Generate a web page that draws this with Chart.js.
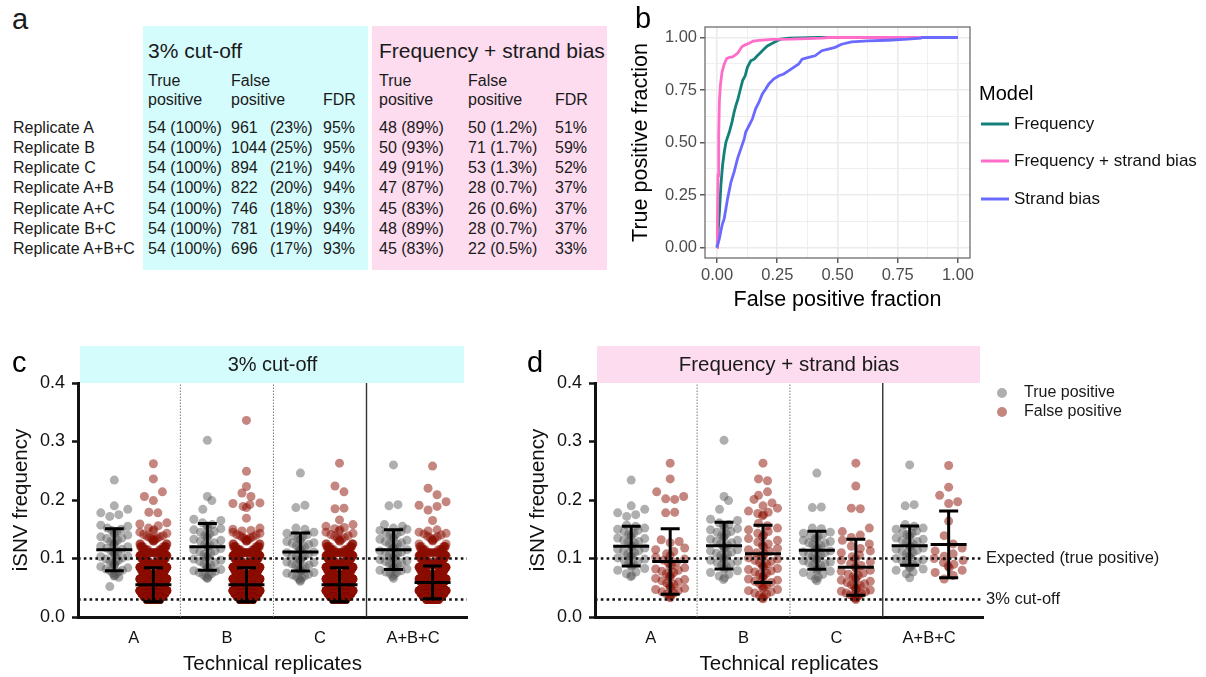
<!DOCTYPE html>
<html>
<head>
<meta charset="utf-8">
<script src="https://cdn.jsdelivr.net/npm/chart.js@4.4.1/dist/chart.umd.min.js"></script>
<style>
  body { margin: 0; background: #fff; }
  #fig { position: relative; width: 1206px; height: 677px; overflow: hidden;
         font-family: 'Liberation Sans', Arial, sans-serif; color: #1a1a1a; }
  .t { position: absolute; white-space: nowrap; line-height: 1; }
  .box { position: absolute; }
  canvas { position: absolute; }
</style>
</head>
<body>
<div id="fig">
  <canvas id="roc" width="586" height="320" style="left:620px;top:0px"></canvas>
  <canvas id="cut" width="480" height="347" style="left:0px;top:330px"></canvas>
  <canvas id="sb" width="686" height="347" style="left:520px;top:330px"></canvas>
</div>
<script>
// ---- panel a: detection table ----
const replicates = ['Replicate A', 'Replicate B', 'Replicate C', 'Replicate A+B', 'Replicate A+C', 'Replicate B+C', 'Replicate A+B+C'];
const cutTpN = [54, 54, 54, 54, 54, 54, 54];
const cutTpPct = [100, 100, 100, 100, 100, 100, 100];
const cutFpN = [961, 1044, 894, 822, 746, 781, 696];
const cutFpPct = [23, 25, 21, 20, 18, 19, 17];
const cutFdr = [95, 95, 94, 94, 93, 94, 93];
const sbTpN = [48, 50, 49, 47, 45, 48, 45];
const sbTpPct = [89, 93, 91, 87, 83, 89, 83];
const sbFpN = [50, 71, 53, 28, 26, 28, 22];
const sbFpPct = ['1.2', '1.7', '1.3', '0.7', '0.6', '0.7', '0.5'];
const sbFdr = [51, 59, 52, 37, 37, 37, 33];

// ---- panel b: ROC curves ----
const rocFreqX = [0, 0.010, 0.016, 0.023, 0.030, 0.037, 0.051, 0.062, 0.071, 0.078, 0.085, 0.092, 0.099, 0.106, 0.117, 0.126, 0.140, 0.154, 0.167, 0.181, 0.195, 0.209, 0.222, 0.236, 0.250, 0.263, 0.300, 0.420, 1.0];
const rocFreqY = [0, 0.171, 0.297, 0.392, 0.455, 0.502, 0.550, 0.597, 0.645, 0.676, 0.700, 0.731, 0.763, 0.795, 0.818, 0.858, 0.889, 0.897, 0.913, 0.929, 0.945, 0.960, 0.968, 0.976, 0.984, 0.992, 0.997, 1.0, 1.0];
const rocBothX = [0, 0.0014, 0.0041, 0.0069, 0.0096, 0.0137, 0.0206, 0.030, 0.040, 0.051, 0.064, 0.075, 0.086, 0.095, 0.103, 0.117, 0.133, 0.150, 0.174, 0.229, 0.311, 0.435, 0.462, 1.0];
const rocBothY = [0, 0.107, 0.344, 0.534, 0.692, 0.771, 0.834, 0.874, 0.900, 0.905, 0.908, 0.916, 0.926, 0.942, 0.956, 0.965, 0.973, 0.983, 0.986, 0.991, 0.992, 0.997, 1.0, 1.0];
const rocStrandX = [0, 0.010, 0.021, 0.030, 0.044, 0.058, 0.071, 0.085, 0.099, 0.113, 0.119, 0.133, 0.147, 0.160, 0.174, 0.188, 0.202, 0.215, 0.236, 0.257, 0.277, 0.298, 0.318, 0.339, 0.353, 0.380, 0.407, 0.435, 0.462, 0.490, 0.517, 0.558, 0.627, 0.709, 0.791, 0.846, 0.850, 1.0];
const rocStrandY = [0, 0.044, 0.107, 0.139, 0.234, 0.313, 0.360, 0.423, 0.471, 0.518, 0.550, 0.581, 0.613, 0.660, 0.692, 0.731, 0.755, 0.779, 0.803, 0.818, 0.826, 0.842, 0.858, 0.874, 0.897, 0.905, 0.913, 0.937, 0.945, 0.953, 0.968, 0.979, 0.984, 0.987, 0.992, 0.997, 1.0, 1.0];
const rocTicks = [0, 0.125, 0.25, 0.375, 0.5, 0.625, 0.75, 0.875, 1];
const modelNames = ['Frequency', 'Frequency + strand bias', 'Strand bias'];

// ---- panels c/d: iSNV frequencies per technical replicate ----
const categories = ['A', 'B', 'C', 'A+B+C'];
const freqTicks = [0, 0.1, 0.2, 0.3, 0.4];

// true positives, 3% cut-off
const tpCutA = [0.234, 0.190, 0.184, 0.178, 0.175, 0.172, 0.157, 0.155, 0.152, 0.150, 0.148, 0.146, 0.143, 0.142, 0.140, 0.137, 0.135, 0.134, 0.131, 0.129, 0.128, 0.126, 0.124, 0.121, 0.120, 0.118, 0.116, 0.113, 0.112, 0.110, 0.108, 0.106, 0.104, 0.103, 0.101, 0.099, 0.097, 0.095, 0.094, 0.092, 0.090, 0.088, 0.086, 0.084, 0.082, 0.080, 0.079, 0.077, 0.075, 0.073, 0.071, 0.070, 0.068, 0.052];
const tpCutB = [0.302, 0.206, 0.199, 0.184, 0.167, 0.165, 0.161, 0.158, 0.156, 0.153, 0.151, 0.149, 0.146, 0.145, 0.142, 0.140, 0.138, 0.136, 0.133, 0.131, 0.130, 0.127, 0.125, 0.123, 0.121, 0.119, 0.117, 0.115, 0.113, 0.111, 0.109, 0.107, 0.105, 0.103, 0.101, 0.099, 0.097, 0.095, 0.093, 0.091, 0.089, 0.087, 0.085, 0.083, 0.081, 0.079, 0.078, 0.076, 0.074, 0.072, 0.071, 0.069, 0.067, 0.066];
const tpCutC = [0.246, 0.191, 0.187, 0.152, 0.150, 0.145, 0.143, 0.141, 0.139, 0.137, 0.135, 0.133, 0.131, 0.129, 0.127, 0.126, 0.124, 0.122, 0.120, 0.118, 0.117, 0.115, 0.113, 0.111, 0.110, 0.108, 0.106, 0.104, 0.103, 0.101, 0.099, 0.098, 0.096, 0.094, 0.093, 0.091, 0.089, 0.088, 0.086, 0.084, 0.083, 0.081, 0.079, 0.078, 0.076, 0.075, 0.073, 0.072, 0.070, 0.069, 0.067, 0.065, 0.063, 0.061];
const tpCutABC = [0.260, 0.192, 0.190, 0.158, 0.155, 0.152, 0.150, 0.148, 0.146, 0.144, 0.142, 0.140, 0.138, 0.136, 0.134, 0.133, 0.131, 0.129, 0.127, 0.125, 0.124, 0.122, 0.120, 0.118, 0.117, 0.115, 0.113, 0.111, 0.110, 0.108, 0.106, 0.105, 0.103, 0.101, 0.100, 0.098, 0.096, 0.095, 0.093, 0.091, 0.090, 0.088, 0.087, 0.085, 0.083, 0.082, 0.080, 0.079, 0.077, 0.076, 0.074, 0.072, 0.069, 0.066];

// false positives, 3% cut-off: dense part as a frequency table, sparse upper tail as single calls
const freqBins = [0.030, 0.035, 0.040, 0.045, 0.050, 0.055, 0.060, 0.065, 0.070, 0.075, 0.080, 0.085, 0.090, 0.095, 0.100, 0.105, 0.110, 0.115, 0.120, 0.125, 0.130];
const fpCutCountsA = [100, 96, 90, 84, 76, 68, 61, 55, 49, 43, 38, 33, 29, 25, 22, 19, 17, 14, 10, 4, 2];
const fpCutCountsB = [110, 104, 98, 91, 83, 75, 67, 60, 53, 47, 41, 36, 31, 27, 23, 21, 18, 15, 11, 4, 2];
const fpCutCountsC = [94, 89, 84, 78, 71, 64, 57, 51, 45, 40, 35, 31, 27, 23, 20, 18, 16, 13, 9, 5, 2];
const fpCutCountsABC = [62, 63, 60, 57, 54, 50, 46, 42, 38, 34, 31, 27, 24, 21, 18, 16, 13, 10, 7, 2, 1];
const fpCutTailA = [0.262, 0.236, 0.214, 0.206, 0.199, 0.179, 0.178, 0.161, 0.159, 0.156, 0.152, 0.149, 0.147, 0.145, 0.143, 0.141, 0.139, 0.138, 0.137, 0.136, 0.135, 0.134, 0.133, 0.132, 0.131];
const fpCutTailB = [0.336, 0.249, 0.223, 0.212, 0.206, 0.195, 0.194, 0.192, 0.189, 0.187, 0.169, 0.152, 0.150, 0.148, 0.147, 0.145, 0.143, 0.141, 0.140, 0.139, 0.137, 0.136, 0.135, 0.134, 0.133, 0.132, 0.131];
const fpCutTailC = [0.263, 0.224, 0.214, 0.186, 0.185, 0.166, 0.158, 0.155, 0.153, 0.151, 0.149, 0.147, 0.145, 0.143, 0.141, 0.139, 0.138, 0.136, 0.135, 0.133, 0.132];
const fpCutTailABC = [0.258, 0.220, 0.209, 0.197, 0.191, 0.189, 0.183, 0.165, 0.149, 0.147, 0.145, 0.143, 0.142, 0.140, 0.138, 0.137, 0.135, 0.134, 0.132, 0.131];

// true positives, frequency + strand bias model
const tpSbA = [0.234, 0.190, 0.184, 0.178, 0.175, 0.172, 0.157, 0.155, 0.152, 0.150, 0.148, 0.146, 0.143, 0.142, 0.140, 0.137, 0.135, 0.134, 0.131, 0.129, 0.128, 0.126, 0.124, 0.121, 0.120, 0.118, 0.116, 0.113, 0.112, 0.110, 0.108, 0.106, 0.104, 0.103, 0.101, 0.099, 0.097, 0.095, 0.092, 0.090, 0.088, 0.086, 0.083, 0.080, 0.077, 0.074, 0.071, 0.069];
const tpSbB = [0.302, 0.206, 0.199, 0.184, 0.167, 0.165, 0.161, 0.158, 0.156, 0.153, 0.151, 0.149, 0.146, 0.145, 0.142, 0.140, 0.138, 0.136, 0.133, 0.131, 0.130, 0.127, 0.125, 0.123, 0.121, 0.119, 0.117, 0.115, 0.113, 0.111, 0.109, 0.107, 0.105, 0.103, 0.101, 0.099, 0.097, 0.095, 0.093, 0.091, 0.089, 0.087, 0.085, 0.082, 0.079, 0.076, 0.073, 0.070, 0.067, 0.064];
const tpSbC = [0.246, 0.188, 0.187, 0.152, 0.151, 0.145, 0.143, 0.141, 0.139, 0.137, 0.135, 0.133, 0.131, 0.129, 0.127, 0.126, 0.124, 0.122, 0.120, 0.118, 0.117, 0.115, 0.113, 0.111, 0.110, 0.108, 0.106, 0.104, 0.103, 0.101, 0.099, 0.098, 0.096, 0.094, 0.093, 0.091, 0.089, 0.088, 0.086, 0.084, 0.082, 0.080, 0.078, 0.076, 0.073, 0.071, 0.068, 0.065, 0.062];
const tpSbABC = [0.260, 0.192, 0.190, 0.158, 0.155, 0.152, 0.150, 0.147, 0.145, 0.143, 0.141, 0.139, 0.137, 0.135, 0.133, 0.131, 0.129, 0.127, 0.125, 0.123, 0.121, 0.120, 0.118, 0.116, 0.114, 0.112, 0.110, 0.108, 0.106, 0.104, 0.102, 0.100, 0.098, 0.096, 0.094, 0.092, 0.090, 0.088, 0.086, 0.084, 0.082, 0.080, 0.077, 0.074, 0.067];

// false positives, frequency + strand bias model
const fpSbA = [0.263, 0.236, 0.214, 0.206, 0.202, 0.201, 0.179, 0.178, 0.132, 0.129, 0.127, 0.118, 0.115, 0.112, 0.108, 0.105, 0.102, 0.099, 0.097, 0.094, 0.092, 0.089, 0.086, 0.084, 0.082, 0.080, 0.078, 0.076, 0.074, 0.072, 0.070, 0.068, 0.066, 0.064, 0.062, 0.060, 0.058, 0.056, 0.054, 0.052, 0.050, 0.049, 0.047, 0.045, 0.043, 0.041, 0.039, 0.037, 0.035, 0.033];
const fpSbB = [0.263, 0.236, 0.233, 0.214, 0.208, 0.201, 0.195, 0.190, 0.186, 0.181, 0.179, 0.177, 0.175, 0.173, 0.160, 0.156, 0.152, 0.149, 0.146, 0.143, 0.140, 0.137, 0.134, 0.131, 0.128, 0.125, 0.122, 0.120, 0.117, 0.115, 0.112, 0.110, 0.108, 0.105, 0.103, 0.101, 0.099, 0.097, 0.095, 0.093, 0.091, 0.089, 0.087, 0.085, 0.083, 0.081, 0.079, 0.077, 0.075, 0.073, 0.071, 0.069, 0.067, 0.065, 0.063, 0.061, 0.059, 0.057, 0.055, 0.053, 0.051, 0.049, 0.047, 0.045, 0.043, 0.041, 0.039, 0.037, 0.035, 0.033, 0.031];
const fpSbC = [0.263, 0.224, 0.186, 0.185, 0.152, 0.146, 0.140, 0.136, 0.131, 0.125, 0.121, 0.117, 0.113, 0.110, 0.106, 0.103, 0.100, 0.097, 0.094, 0.091, 0.088, 0.085, 0.083, 0.080, 0.078, 0.075, 0.073, 0.071, 0.069, 0.067, 0.065, 0.063, 0.061, 0.059, 0.057, 0.055, 0.054, 0.052, 0.050, 0.049, 0.047, 0.046, 0.044, 0.043, 0.041, 0.040, 0.038, 0.037, 0.036, 0.034, 0.033, 0.032, 0.030];
const fpSbABC = [0.259, 0.222, 0.208, 0.197, 0.194, 0.164, 0.139, 0.125, 0.118, 0.113, 0.108, 0.104, 0.100, 0.097, 0.093, 0.090, 0.087, 0.084, 0.080, 0.076, 0.071, 0.065];

// mean and SD bars
const tpMeanCut = [0.115, 0.120, 0.111, 0.115];
const tpSdCut = [0.036, 0.040, 0.0325, 0.034];
const fpMeanCut = [0.055, 0.055, 0.055, 0.059];
const fpSdCut = [0.029, 0.029, 0.029, 0.028];
const tpMeanSb = [0.121, 0.122, 0.114, 0.122];
const tpSdSb = [0.034, 0.040, 0.0325, 0.0335];
const fpMeanSb = [0.095, 0.108, 0.085, 0.124];
const fpSdSb = [0.056, 0.049, 0.048, 0.057];

const expectedFreq = 0.1;
const cutoffFreq = 0.03;

// ---- styling ----
const FONT = "'Liberation Sans', Arial, sans-serif";
const TEAL = '#13807a', PINK = '#ff6cc9', BLUE = '#6a6aff';
const TP_COLOR = 'rgba(88,88,88,0.48)', FP_COLOR = 'rgba(140,14,0,0.5)';
const CYAN_BG = '#d5fcfd', PINK_BG = '#fddcf0';
const POINT_R = 4.5;
const X_MIN = -0.6, X_MAX = 3.58, SHIFT = 0.21;

Chart.defaults.font.family = FONT;
Chart.defaults.color = '#111';

const fig = document.getElementById('fig');

function put(text, x, base, size) {
  const el = document.createElement('div');
  el.className = 't';
  el.textContent = text;
  el.style.left = x + 'px';
  el.style.top = (base - 0.8465 * size) + 'px';
  el.style.fontSize = size + 'px';
  fig.appendChild(el);
}
function box(x, y, w, h, color) {
  const el = document.createElement('div');
  el.className = 'box';
  Object.assign(el.style, { left: x + 'px', top: y + 'px', width: w + 'px', height: h + 'px', background: color });
  fig.insertBefore(el, fig.firstChild);
}

// table
box(143, 26, 225, 244, CYAN_BG);
box(372, 26, 235, 244, PINK_BG);
put('a', 12, 30, 29);
put('3% cut-off', 148, 58, 21);
put('Frequency + strand bias', 379, 58, 21);
[[148, 'True'], [231, 'False'], [379, 'True'], [468, 'False']].forEach(([x, s]) => {
  put(s, x, 87, 16);
  put('positive', x, 106, 16);
});
put('FDR', 323, 106, 16);
put('FDR', 555, 106, 16);
replicates.forEach((r, i) => {
  const b = 133.5 + i * 20.15;
  put(r, 13, b, 16);
  put(cutTpN[i] + ' (' + cutTpPct[i] + '%)', 148, b, 16);
  put(String(cutFpN[i]), 231, b, 16);
  put('(' + cutFpPct[i] + '%)', 270, b, 16);
  put(cutFdr[i] + '%', 323, b, 16);
  put(sbTpN[i] + ' (' + sbTpPct[i] + '%)', 379, b, 16);
  put(sbFpN[i] + ' (' + sbFpPct[i] + '%)', 468, b, 16);
  put(sbFdr[i] + '%', 555, b, 16);
});

// ---- ROC chart ----
const toPts = (xs, ys) => xs.map((x, i) => ({ x, y: ys[i] }));
const isMajor = v => Math.abs(v * 4 - Math.round(v * 4)) < 1e-6;

function rocAxis(title, titlePad, size) {
  return {
    type: 'linear', min: -0.05, max: 1.05,
    afterBuildTicks: s => { s.ticks = rocTicks.map(v => ({ value: v })); },
    afterFit: size,
    ticks: { callback: v => isMajor(v) ? v.toFixed(2) : '', font: { size: 16.5 }, color: '#4d4d4d', padding: 3, autoSkip: false, maxRotation: 0 },
    grid: {
      color: '#ebebeb',
      lineWidth: c => isMajor(c.tick.value) ? 1.6 : 0.8,
      tickColor: c => isMajor(c.tick.value) ? '#333' : 'rgba(0,0,0,0)',
      tickLength: 5, tickWidth: 1.2
    },
    border: { display: false },
    title: { display: true, text: title, font: { size: 21.5 }, color: '#000', padding: titlePad }
  };
}

new Chart(document.getElementById('roc'), {
  type: 'line',
  data: {
    datasets: [
      { data: toPts(rocFreqX, rocFreqY), borderColor: TEAL, order: 3 },
      { data: toPts(rocBothX, rocBothY), borderColor: PINK, order: 2 },
      { data: toPts(rocStrandX, rocStrandY), borderColor: BLUE, order: 1 }
    ]
  },
  options: {
    responsive: false, animation: false, events: [],
    layout: { padding: { left: 0, top: 27, right: 236, bottom: 0 } },
    elements: { point: { radius: 0 }, line: { borderWidth: 2.8, tension: 0, fill: false } },
    plugins: { legend: { display: false }, tooltip: { enabled: false } },
    scales: {
      x: rocAxis('False positive fraction', { top: 0, bottom: 7 }, s => { s.height = 62; }),
      y: rocAxis('True positive fraction', { top: 8, bottom: 0 }, s => { s.width = 85; })
    }
  },
  plugins: [{
    id: 'rocDecor',
    afterDraw(chart) {
      const { ctx, chartArea: a } = chart;
      ctx.save();
      ctx.strokeStyle = '#6e6e6e';
      ctx.lineWidth = 1.3;
      ctx.strokeRect(a.left, a.top, a.right - a.left, a.bottom - a.top);
      ctx.fillStyle = '#000';
      ctx.font = '29px ' + FONT;
      ctx.textBaseline = 'alphabetic';
      ctx.fillText('b', 15, 28);
      ctx.font = '20px ' + FONT;
      ctx.textBaseline = 'middle';
      ctx.fillText('Model', 359, 94);
      ctx.font = '17px ' + FONT;
      [TEAL, PINK, BLUE].forEach((col, i) => {
        const y = [124, 161, 199][i];
        ctx.strokeStyle = col;
        ctx.lineWidth = 3;
        ctx.beginPath(); ctx.moveTo(361, y); ctx.lineTo(389, y); ctx.stroke();
        ctx.fillStyle = '#111';
        ctx.fillText(modelNames[i], 394, y);
      });
      ctx.restore();
    }
  }]
});

// ---- swarm (c and d) ----
function expand(bins, counts) {
  const out = [];
  bins.forEach((v, i) => { for (let k = 0; k < counts[i]; k++) out.push(v); });
  return out;
}

// row-wise scatter: values within one dot height share a row, lowest in the middle;
// rows wider than the column are squeezed - small rows towards the middle,
// crowded rows both evenly and towards the sides so the dense block stays solid
function swarmOffsets(values, yScale, half) {
  const d = 2 * POINT_R, rowH = 9.5;
  const order = values.map((v, i) => i).sort((a, b) => values[a] - values[b]);
  const off = new Array(values.length).fill(0);
  let start = 0, row = 0;
  while (start < order.length) {
    const y0 = yScale.getPixelForValue(values[order[start]]);
    let end = start + 1;
    while (end < order.length && y0 - yScale.getPixelForValue(values[order[end]]) < rowH) end++;
    const n = end - start;
    const squeeze = (n - 1) * d > 2 * half;
    const s = n > 1 ? Math.min(d, 2 * half / (n - 1)) : 0;
    let slots = [];
    if (n % 2) {
      slots.push(0);
      for (let k = 1; slots.length < n; k++) slots.push(-k * s, k * s);
    } else {
      for (let k = 0; slots.length < n; k++) slots.push(-(k + 0.5) * s, (k + 0.5) * s);
    }
    if (squeeze) {
      slots = slots.map((x, k) => {
        const pw = n < 30 ? 2 : (k % 4 < 2 ? 1 : 0.55);
        return Math.sign(x) * Math.pow(Math.abs(x) / half, pw) * half;
      });
    }
    const flip = row % 2 ? -1 : 1;
    for (let k = 0; k < n; k++) off[order[start + k]] = slots[k] * flip;
    start = end;
    row++;
  }
  return off;
}

function swarmChart(id, p) {
  const datasets = [];
  // reference lines first so they are painted over the dots
  [expectedFreq, cutoffFreq].forEach(v => datasets.push({
    data: [{ x: X_MIN, y: v }, { x: X_MAX, y: v }], showLine: true,
    borderColor: '#111', borderWidth: 2.6, borderDash: [2.6, 3.2], pointRadius: 0
  }));
  const groups = [];
  categories.forEach((c, g) => {
    groups.push({ ds: datasets.length, center: g - SHIFT, values: p.tp[g], half: 13.5 });
    datasets.push({ data: p.tp[g].map(v => ({ x: g - SHIFT, y: v })), pointRadius: POINT_R, pointBackgroundColor: TP_COLOR, pointBorderWidth: 0 });
    groups.push({ ds: datasets.length, center: g + SHIFT, values: p.fp[g], half: p.fpHalf });
    datasets.push({ data: p.fp[g].map(v => ({ x: g + SHIFT, y: v })), pointRadius: POINT_R, pointBackgroundColor: FP_COLOR, pointBorderWidth: 0 });
  });
  // replicate separators
  [0.5, 1.5, 2.5].forEach((x, i) => datasets.push({
    data: [{ x, y: 0 }, { x, y: 0.4 }], showLine: true, pointRadius: 0,
    borderColor: i < 2 ? '#777' : '#333', borderWidth: i < 2 ? 1 : 1.4, borderDash: i < 2 ? [1.5, 1.5] : []
  }));

  const chart = new Chart(document.getElementById(id), {
    type: 'scatter',
    data: { datasets },
    options: {
      responsive: false, animation: false, events: [],
      layout: { padding: { left: 0, top: 53, right: p.padRight, bottom: 0 } },
      plugins: { legend: { display: false }, tooltip: { enabled: false } },
      scales: {
        x: {
          type: 'linear', min: X_MIN, max: X_MAX,
          afterBuildTicks: s => { s.ticks = categories.map((c, i) => ({ value: i })); },
          afterFit: s => { s.height = 60; },
          ticks: { callback: v => categories[v], font: { size: 16.5 }, color: '#111', padding: 4, autoSkip: false, maxRotation: 0 },
          grid: { display: false },
          border: { display: true, width: 3, color: '#111' },
          title: { display: true, text: 'Technical replicates', font: { size: 20.5 }, color: '#111', padding: { top: 0, bottom: 0 } }
        },
        y: {
          min: 0, max: 0.4,
          afterBuildTicks: s => { s.ticks = freqTicks.map(v => ({ value: v })); },
          afterFit: s => { s.width = p.axisW; },
          ticks: { callback: v => v.toFixed(1), font: { size: 18 }, color: '#111', padding: 7 },
          grid: { drawOnChartArea: false, drawTicks: true, tickLength: 6, tickColor: '#111', tickWidth: 2.5 },
          border: { display: true, width: 3, color: '#111' },
          title: { display: true, text: 'iSNV frequency', font: { size: 20.5 }, color: '#111', padding: { top: p.titlePad, bottom: 0 } }
        }
      }
    },
    plugins: [{
      id: 'swarmDecor',
      beforeDraw(chart) {
        const { ctx, chartArea: a } = chart;
        ctx.save();
        ctx.fillStyle = p.bandColor;
        ctx.fillRect(a.left + 2, a.top - 37, a.right - a.left - 5, 37);
        ctx.fillStyle = '#1a1a1a';
        ctx.font = p.bandSize + 'px ' + FONT;
        ctx.textAlign = 'center';
        ctx.textBaseline = 'middle';
        ctx.fillText(p.band, (a.left + a.right) / 2, a.top - 18);
        ctx.textAlign = 'left';
        ctx.textBaseline = 'alphabetic';
        ctx.font = '29px ' + FONT;
        ctx.fillStyle = '#000';
        ctx.fillText(p.letter, p.letterX, 42);
        ctx.restore();
      },
      afterDatasetsDraw(chart) {
        const { ctx, scales: { x, y } } = chart;
        ctx.save();
        ctx.strokeStyle = '#000';
        ctx.lineWidth = 3;
        categories.forEach((c, g) => {
          [[g - SHIFT, p.tpMean[g], p.tpSd[g]], [g + SHIFT, p.fpMean[g], p.fpSd[g]]].forEach(([cx, m, s]) => {
            const px = x.getPixelForValue(cx);
            const yt = y.getPixelForValue(m + s), ym = y.getPixelForValue(m), yb = y.getPixelForValue(m - s);
            ctx.beginPath();
            ctx.moveTo(px, yt); ctx.lineTo(px, yb);
            ctx.moveTo(px - 18, ym); ctx.lineTo(px + 18, ym);
            ctx.moveTo(px - 9.5, yt); ctx.lineTo(px + 9.5, yt);
            ctx.moveTo(px - 9.5, yb); ctx.lineTo(px + 9.5, yb);
            ctx.stroke();
          });
        });
        ctx.restore();
      },
      afterDraw(chart) {
        if (!p.notes) return;
        const { ctx, chartArea: a, scales: { y } } = chart;
        ctx.save();
        ctx.font = '16.5px ' + FONT;
        ctx.fillStyle = '#1a1a1a';
        ctx.textBaseline = 'middle';
        ctx.fillText('Expected (true positive)', a.right + 3, y.getPixelForValue(expectedFreq));
        ctx.fillText('3% cut-off', a.right + 3, y.getPixelForValue(cutoffFreq));
        ctx.font = '16px ' + FONT;
        [[TP_COLOR, 'True positive', 63], [FP_COLOR, 'False positive', 82]].forEach(([col, label, ly]) => {
          ctx.fillStyle = col;
          ctx.beginPath(); ctx.arc(482, ly, 5, 0, Math.PI * 2); ctx.fill();
          ctx.fillStyle = '#1a1a1a';
          ctx.fillText(label, 504, ly);
        });
        ctx.restore();
      }
    }]
  });

  // second pass: spread the dots now that the scales know their pixel size
  const xs = chart.scales.x, ys = chart.scales.y;
  const pxPerUnit = xs.getPixelForValue(1) - xs.getPixelForValue(0);
  groups.forEach(gr => {
    const off = swarmOffsets(gr.values, ys, gr.half);
    datasets[gr.ds].data = gr.values.map((v, i) => ({ x: gr.center + off[i] / pxPerUnit, y: v }));
  });
  chart.update('none');
  return chart;
}

swarmChart('cut', {
  tp: [tpCutA, tpCutB, tpCutC, tpCutABC],
  fp: [
    expand(freqBins, fpCutCountsA).concat(fpCutTailA),
    expand(freqBins, fpCutCountsB).concat(fpCutTailB),
    expand(freqBins, fpCutCountsC).concat(fpCutTailC),
    expand(freqBins, fpCutCountsABC).concat(fpCutTailABC)
  ],
  tpMean: tpMeanCut, tpSd: tpSdCut, fpMean: fpMeanCut, fpSd: fpSdCut,
  fpHalf: 13.5, axisW: 78, padRight: 13, titlePad: 9,
  band: '3% cut-off', bandColor: CYAN_BG, bandSize: 20, letter: 'c', letterX: 12, notes: false
});

swarmChart('sb', {
  tp: [tpSbA, tpSbB, tpSbC, tpSbABC],
  fp: [fpSbA, fpSbB, fpSbC, fpSbABC],
  tpMean: tpMeanSb, tpSd: tpSdSb, fpMean: fpMeanSb, fpSd: fpSdSb,
  fpHalf: 14.5, axisW: 75, padRight: 223, titlePad: 6,
  band: 'Frequency + strand bias', bandColor: PINK_BG, bandSize: 20.5, letter: 'd', letterX: 7, notes: true
});
</script>
</body>
</html>
